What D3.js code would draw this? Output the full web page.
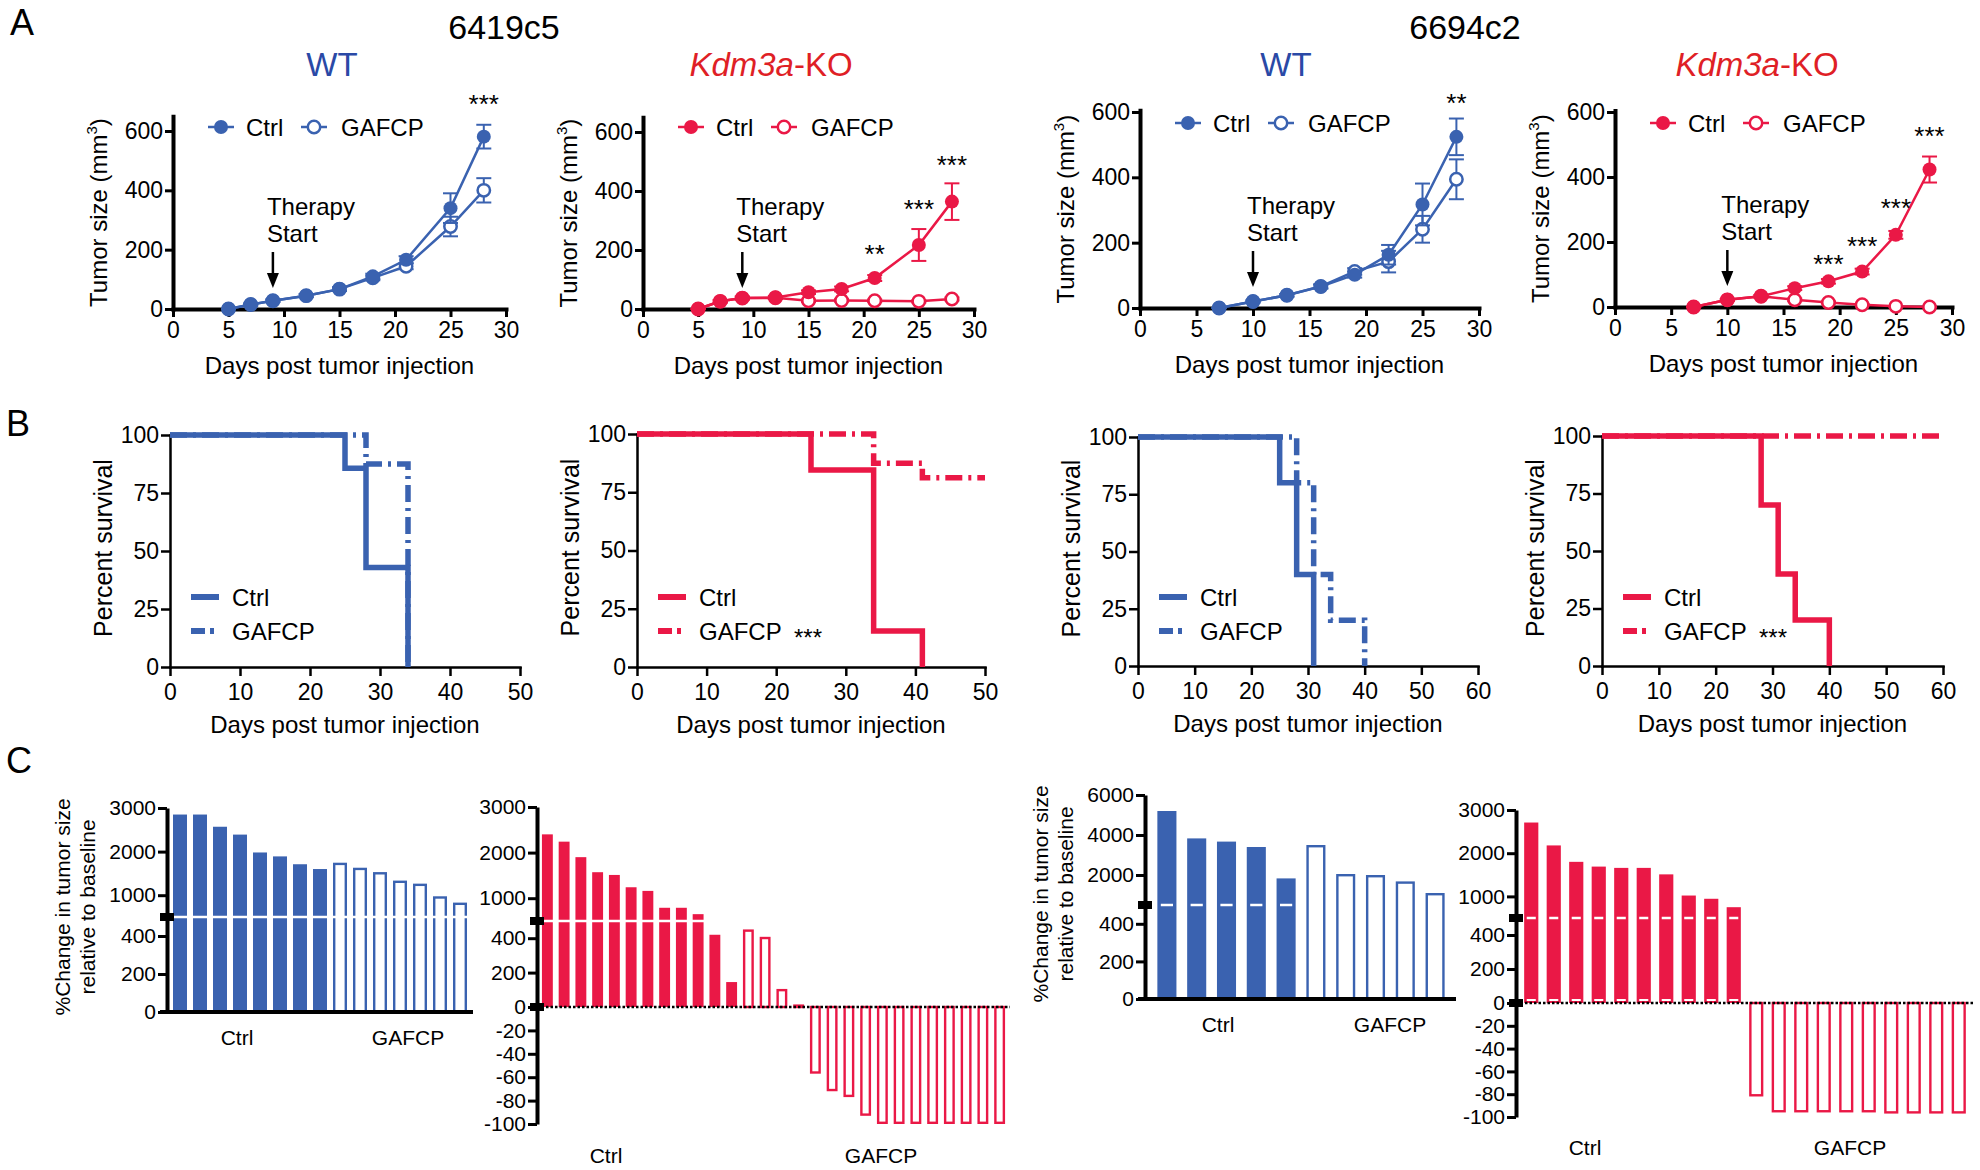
<!DOCTYPE html>
<html><head><meta charset="utf-8">
<script src="https://cdn.jsdelivr.net/npm/d3@7"></script>
<style>
body{margin:0;background:#fff;}
svg{display:block;}
</style></head><body>
<svg id="fig" width="1980" height="1170"></svg>
<script>
// ================= DATA =================
const panelLetters = ["A","B","C"];
const cellLines = ["6419c5","6694c2"];
const genotypes = ["WT","Kdm3a-KO","WT","Kdm3a-KO"];
const seriesNames = ["Ctrl","GAFCP"];
const xAxisTitle = "Days post tumor injection";

// Panel A : tumor growth (mean, SEM)
const growthXTicks = [0,5,10,15,20,25,30];
const growthYTicks = [0,200,400,600];

const a1Days = [5,7,9,12,15,18,21,25,28];
const a1Ctrl = [0,15,28,45,67,110,166,340,581];
const a1CtrlErr = [0,3,4,5,6,9,12,50,40];
const a1Gafcp = [0,15,28,45,67,105,144,278,400];
const a1GafcpErr = [0,3,4,5,6,8,10,33,41];

const a2Days = [5,7,9,12,15,18,21,25,28];
const a2Ctrl = [0,26,37,39,57,68,105,217,364];
const a2CtrlErr = [0,4,5,5,6,8,10,54,62];
const a2Gafcp = [0,26,37,38,28,29,28,26,34];
const a2GafcpErr = [0,4,5,4,4,4,4,4,5];

const a3Days = [7,10,13,16,19,22,25,28];
const a3Ctrl = [0,20,39,66,102,163,317,524];
const a3CtrlErr = [0,3,4,6,9,30,64,56];
const a3Gafcp = [0,20,39,66,112,142,241,394];
const a3GafcpErr = [0,3,4,6,10,33,41,61];

const a4Days = [7,10,13,16,19,22,25,28];
const a4Ctrl = [0,22,33,58,79,109,222,423];
const a4CtrlErr = [0,3,4,6,7,9,12,40];
const a4Gafcp = [0,22,33,22,14,7,2,0];
const a4GafcpErr = [0,3,4,4,3,2,1,1];

const therapyStartDays = [9,9,10,10];

const a1StarDays = [28], a1StarVals = [710], a1Stars = ["***"];
const a2StarDays = [21,25,28], a2StarVals = [206,358,510], a2Stars = ["**","***","***"];
const a3StarDays = [28], a3StarVals = [646], a3Stars = ["**"];
const a4StarDays = [19,22,25,28], a4StarVals = [150,207,324,544], a4Stars = ["***","***","***","***"];

// Panel B : survival (step points)
const survYTicks = [0,25,50,75,100];
const surv50Ticks = [0,10,20,30,40,50];
const surv60Ticks = [0,10,20,30,40,50,60];

const b1CtrlT = [0,25,28,34],        b1CtrlS = [100,85.7,42.9,0];
const b1GafcpT = [0,28,34],          b1GafcpS = [100,87.5,0];
const b2CtrlT = [0,25,34,41],        b2CtrlS = [100,84.6,15.4,0];
const b2GafcpT = [0,34,41,50],       b2GafcpS = [100,87.5,81.25,81.25];
const b3CtrlT = [0,25,28,31],        b3CtrlS = [100,80,40,0];
const b3GafcpT = [0,28,31,34,40],    b3GafcpS = [100,80,40,20,0];
const b4CtrlT = [0,28,31,34,40],     b4CtrlS = [100,70,40,20,0];
const b4GafcpT = [0,60],             b4GafcpS = [100,100];
const survStars = ["","***","","***"];

// Panel C : waterfall (% change)
const c1Ctrl = [2850,2850,2570,2390,1980,1890,1710,1600];
const c1Gafcp = [1745,1630,1530,1335,1265,975,830];
const c2Ctrl = [2400,2240,1900,1570,1510,1240,1160,790,790,650,420,145];
const c2Gafcp = [451,408,105,15,-57,-72,-77,-93,-100,-100,-100,-100,-100,-100,-100,-100];
const c3Ctrl = [5200,3830,3670,3400,1830];
const c3Gafcp = [3500,2050,2000,1680,1100];
const c4Ctrl = [2710,2180,1800,1690,1660,1660,1510,1020,945,750];
const c4Gafcp = [-82,-96,-96,-96,-96,-96,-97,-97,-97,-97];

const c1Ticks = [0,200,400,1000,2000,3000];
const c2Ticks = [-100,-80,-60,-40,-20,0,200,400,1000,2000,3000];
const c3Ticks = [0,200,400,2000,4000,6000];
const c4Ticks = [-100,-80,-60,-40,-20,0,200,400,1000,2000,3000];
const cYTitle = ["%Change in tumor size","relative to baseline"];

// ================= STYLE / LAYOUT =================
const FONT = '"Liberation Sans", Arial, Helvetica, sans-serif';
const BLUE = "#3a62b0", RED = "#ea1846";
const TBLUE = "#2a49a6", TRED = "#df1f26";

const svg = d3.select("#fig").attr("font-family", FONT);
svg.append("rect").attr("width",1980).attr("height",1170).attr("fill","#fff");

function txt(g, x, y, s, size, anchor, fill){
  return g.append("text").attr("x",x).attr("y",y).text(s)
    .attr("font-size",size).attr("text-anchor",anchor||"start")
    .attr("fill",fill||"#000").attr("font-family",FONT);
}
function styleAxis(a, pathW, tickW, fs){
  a.attr("font-family",FONT);
  a.selectAll("path").attr("stroke","#000").attr("stroke-width",pathW).attr("stroke-linecap","square");
  a.selectAll("line").attr("stroke","#000").attr("stroke-width",tickW);
  a.selectAll("text").attr("font-size",fs).attr("fill","#000").attr("font-family",FONT);
}

// panel letters and cell line names
txt(svg, 10, 35, panelLetters[0], 36);
txt(svg, 6, 436, panelLetters[1], 36);
txt(svg, 6, 773, panelLetters[2], 36);
txt(svg, 504, 39, cellLines[0], 34, "middle");
txt(svg, 1465, 39, cellLines[1], 34, "middle");

// ---------- growth panels ----------
const growthLayout = [
  {x0:173,x1:506,y0:309,y600:131,top:650,legY:127,tcx:332},
  {x0:643,x1:974,y0:309,y600:132,top:650,legY:127,tcx:771},
  {x0:1140,x1:1479,y0:308,y600:112,top:605,legY:123,tcx:1286},
  {x0:1615,x1:1952,y0:307,y600:112,top:605,legY:123,tcx:1757}
];

function drawGrowth(i, days, ctrl, ctrlErr, gaf, gafErr, sDays, sVals, sLab, color, tcolor){
  const L = growthLayout[i];
  const g = svg.append("g");
  const x = d3.scaleLinear().domain([0,30]).range([L.x0,L.x1]);
  const k = (L.y0 - L.y600)/600;
  const y = d3.scaleLinear().domain([0,L.top]).range([L.y0, L.y0 - k*L.top]);

  // title
  const t = g.append("text").attr("x",L.tcx).attr("y",76).attr("text-anchor","middle")
    .attr("font-size",33).attr("fill",tcolor).attr("font-family",FONT);
  const gt = genotypes[i];
  if (gt.indexOf("-") > 0){
    const parts = gt.split("-");
    t.append("tspan").attr("font-style","italic").text(parts[0]);
    t.append("tspan").text("-"+parts[1]);
  } else t.text(gt);

  // axes
  const ax = g.append("g").attr("transform",`translate(0,${L.y0})`)
    .call(d3.axisBottom(x).tickValues(growthXTicks).tickSize(8).tickSizeOuter(0).tickPadding(5));
  const ay = g.append("g").attr("transform",`translate(${L.x0},0)`)
    .call(d3.axisLeft(y).tickValues(growthYTicks).tickSize(8).tickSizeOuter(0).tickPadding(2));
  styleAxis(ax,4,3,23); styleAxis(ay,4,3,23);

  // axis titles
  txt(g, (L.x0+L.x1)/2, L.y0+65, xAxisTitle, 24, "middle");
  const yl = g.append("text").attr("transform",`translate(${L.x0-66},${(L.y0+y(L.top))/2}) rotate(-90)`)
    .attr("text-anchor","middle").attr("font-size",24).attr("font-family",FONT).attr("fill","#000");
  yl.append("tspan").text("Tumor size (mm");
  yl.append("tspan").attr("font-size",15).attr("dy",-10).text("3");
  yl.append("tspan").attr("dy",10).text(")");

  // therapy start annotation
  const tx = x(therapyStartDays[i]);
  txt(g, tx-6, L.y0-94, "Therapy", 24);
  txt(g, tx-6, L.y0-67, "Start", 24);
  g.append("line").attr("x1",tx).attr("x2",tx).attr("y1",L.y0-57).attr("y2",L.y0-34)
    .attr("stroke","#000").attr("stroke-width",2.5);
  g.append("path").attr("d",`M${tx-6},${L.y0-36} L${tx+6},${L.y0-36} L${tx},${L.y0-21} Z`).attr("fill","#000");

  function series(vals, errs, filled){
    days.forEach((d,j)=>{
      const xx = x(d), yt = y(vals[j]+errs[j]), yb = y(Math.max(0, vals[j]-errs[j]));
      g.append("line").attr("x1",xx).attr("x2",xx).attr("y1",yt).attr("y2",yb).attr("stroke",color).attr("stroke-width",2);
      [yt,yb].forEach(yy=>g.append("line").attr("x1",xx-7.5).attr("x2",xx+7.5).attr("y1",yy).attr("y2",yy).attr("stroke",color).attr("stroke-width",2));
    });
    g.append("path").datum(days.map((d,j)=>[d,vals[j]]))
      .attr("d", d3.line().x(p=>x(p[0])).y(p=>y(p[1])))
      .attr("fill","none").attr("stroke",color).attr("stroke-width",2.5);
    g.selectAll(null).data(days.map((d,j)=>[d,vals[j]])).enter().append("circle")
      .attr("cx",p=>x(p[0])).attr("cy",p=>y(p[1]))
      .attr("r", filled?7:6.2)
      .attr("fill", filled?color:"#fff")
      .attr("stroke", color).attr("stroke-width", filled?0:2.5);
  }
  series(gaf, gafErr, false);
  series(ctrl, ctrlErr, true);

  // significance stars
  sDays.forEach((d,j)=> txt(g, x(d), y(sVals[j])+15, sLab[j], 26, "middle"));

  // legend
  const ly = L.legY;
  [[48,73,true],[141,168,false]].forEach((c,j)=>{
    const cx = L.x0 + c[0];
    g.append("line").attr("x1",cx-13).attr("x2",cx+13).attr("y1",ly).attr("y2",ly).attr("stroke",color).attr("stroke-width",2.5);
    g.append("circle").attr("cx",cx).attr("cy",ly).attr("r", c[2]?7:6.2)
      .attr("fill", c[2]?color:"#fff").attr("stroke",color).attr("stroke-width", c[2]?0:2.5);
    txt(g, L.x0 + c[1], ly+9, seriesNames[j], 24);
  });
}

drawGrowth(0, a1Days, a1Ctrl, a1CtrlErr, a1Gafcp, a1GafcpErr, a1StarDays, a1StarVals, a1Stars, BLUE, TBLUE);
drawGrowth(1, a2Days, a2Ctrl, a2CtrlErr, a2Gafcp, a2GafcpErr, a2StarDays, a2StarVals, a2Stars, RED, TRED);
drawGrowth(2, a3Days, a3Ctrl, a3CtrlErr, a3Gafcp, a3GafcpErr, a3StarDays, a3StarVals, a3Stars, BLUE, TBLUE);
drawGrowth(3, a4Days, a4Ctrl, a4CtrlErr, a4Gafcp, a4GafcpErr, a4StarDays, a4StarVals, a4Stars, RED, TRED);

// ---------- survival panels ----------
const survLayout = [
  {x0:170,x1:520,y0:667,y100:435,xmax:50},
  {x0:637,x1:985,y0:667,y100:434,xmax:50},
  {x0:1138,x1:1478,y0:666,y100:437,xmax:60},
  {x0:1602,x1:1943,y0:666,y100:436,xmax:60}
];
const DASHDOT = "17,6,3,6";

function drawSurv(i, cT, cS, gT, gS, color, xticks){
  const L = survLayout[i];
  const g = svg.append("g");
  const x = d3.scaleLinear().domain([0,L.xmax]).range([L.x0,L.x1]);
  const y = d3.scaleLinear().domain([0,100]).range([L.y0,L.y100]);
  const ax = g.append("g").attr("transform",`translate(0,${L.y0})`)
    .call(d3.axisBottom(x).tickValues(xticks).tickSize(9).tickSizeOuter(0).tickPadding(8));
  const ay = g.append("g").attr("transform",`translate(${L.x0},0)`)
    .call(d3.axisLeft(y).tickValues(survYTicks).tickSize(9).tickSizeOuter(0).tickPadding(2));
  styleAxis(ax,2.5,2.5,23); styleAxis(ay,2.5,2.5,23);

  txt(g, (L.x0+L.x1)/2, L.y0+66, xAxisTitle, 24, "middle");
  g.append("text").attr("transform",`translate(${L.x0-58},${(L.y0+L.y100)/2-3}) rotate(-90)`)
    .attr("text-anchor","middle").attr("font-size",25).attr("font-family",FONT).attr("fill","#000").text("Percent survival");

  const line = d3.line().curve(d3.curveStepAfter).x(p=>x(p[0])).y(p=>y(p[1]));
  g.append("path").datum(gT.map((t,j)=>[t,gS[j]])).attr("d",line)
    .attr("fill","none").attr("stroke",color).attr("stroke-width",5.5).attr("stroke-dasharray",DASHDOT);
  g.append("path").datum(cT.map((t,j)=>[t,cS[j]])).attr("d",line)
    .attr("fill","none").attr("stroke",color).attr("stroke-width",5.5);

  // legend
  const rows = [597, 631];
  g.append("line").attr("x1",L.x0+21).attr("x2",L.x0+49).attr("y1",rows[0]).attr("y2",rows[0])
    .attr("stroke",color).attr("stroke-width",6);
  g.append("line").attr("x1",L.x0+21).attr("x2",L.x0+49).attr("y1",rows[1]).attr("y2",rows[1])
    .attr("stroke",color).attr("stroke-width",6).attr("stroke-dasharray","14,5,4,6");
  txt(g, L.x0+62, rows[0]+9, seriesNames[0], 24);
  txt(g, L.x0+62, rows[1]+9, seriesNames[1], 24);
  if (survStars[i]) txt(g, L.x0+157, rows[1]+15, survStars[i], 24);
}

drawSurv(0, b1CtrlT, b1CtrlS, b1GafcpT, b1GafcpS, BLUE, surv50Ticks);
drawSurv(1, b2CtrlT, b2CtrlS, b2GafcpT, b2GafcpS, RED, surv50Ticks);
drawSurv(2, b3CtrlT, b3CtrlS, b3GafcpT, b3GafcpS, BLUE, surv60Ticks);
drawSurv(3, b4CtrlT, b4CtrlS, b4GafcpT, b4GafcpS, RED, surv60Ticks);

// ---------- waterfall panels ----------
const waterLayout = [
  {ax:167,b0:170,b1:470,pi:0.3,yDom:[0,500,3000],yRng:[1012,917,808],xEnd:473,dotted:false,
   breakV:500,solidBreak:true,lab:[237,408],labY:1045,yTitle:true},
  {ax:537,b0:539,b1:1008,pi:0.35,yDom:[-100,0,500,3000],yRng:[1124,1007,921,807],xEnd:1010,dotted:true,
   breakV:500,solidBreak:true,lab:[606,881],labY:1163,yTitle:false},
  {ax:1145,b0:1152,b1:1450,pi:0.36,yDom:[0,500,6000],yRng:[999,905,795],xEnd:1456,dotted:false,
   breakV:500,solidBreak:false,lab:[1218,1390],labY:1032,yTitle:true},
  {ax:1516,b0:1520,b1:1970,pi:0.37,yDom:[-100,0,500,3000],yRng:[1117,1003,918,810],xEnd:1975,dotted:true,
   breakV:500,solidBreak:false,zeroDash:true,lab:[1585,1850],labY:1155,yTitle:false}
];

function drawWater(i, ctrl, gaf, color, ticks){
  const L = waterLayout[i];
  const g = svg.append("g");
  const vals = ctrl.concat(gaf);
  const idx = d3.range(vals.length);
  const x = d3.scaleBand().domain(idx).range([L.b0,L.b1]).paddingInner(L.pi).paddingOuter(L.pi/2);
  const y = d3.scaleLinear().domain(L.yDom).range(L.yRng);
  const bw = x.bandwidth();

  // bars
  vals.forEach((v,j)=>{
    const filled = j < ctrl.length;
    const y0 = y(0), y1 = y(v);
    const top = Math.min(y0,y1), h = Math.abs(y1-y0);
    if (filled){
      g.append("rect").attr("x",x(j)).attr("y",top).attr("width",bw).attr("height",h).attr("fill",color);
    } else {
      g.append("rect").attr("x",x(j)+1.2).attr("y",top+(v>=0?1.2:0)).attr("width",bw-2.4)
        .attr("height",Math.max(0,h-1.2)).attr("fill","#fff").attr("stroke",color).attr("stroke-width",2.4);
    }
  });
  // axis break line across bars
  const yb = y(L.breakV);
  if (L.solidBreak){
    g.append("line").attr("x1",L.b0).attr("x2",L.b1).attr("y1",yb).attr("y2",yb).attr("stroke","#fff").attr("stroke-width",2.5);
  } else {
    ctrl.forEach((v,j)=>{
      if (v > L.breakV) g.append("line").attr("x1",x(j)+bw*0.18).attr("x2",x(j)+bw*0.82).attr("y1",yb).attr("y2",yb)
        .attr("stroke","#fff").attr("stroke-width",2.5);
      if (L.zeroDash) g.append("line").attr("x1",x(j)+bw*0.18).attr("x2",x(j)+bw*0.82).attr("y1",y(0)-3).attr("y2",y(0)-3)
        .attr("stroke","#fff").attr("stroke-width",2);
    });
  }

  // baseline
  if (L.dotted){
    g.append("line").attr("x1",L.ax).attr("x2",L.xEnd).attr("y1",y(0)).attr("y2",y(0))
      .attr("stroke","#000").attr("stroke-width",2.5).attr("stroke-dasharray","2.5,2");
  } else {
    g.append("line").attr("x1",L.ax-7).attr("x2",L.xEnd).attr("y1",y(0)).attr("y2",y(0))
      .attr("stroke","#000").attr("stroke-width",4);
  }
  // y axis
  const ay = g.append("g").attr("transform",`translate(${L.ax},0)`)
    .call(d3.axisLeft(y).tickValues(ticks).tickSize(9).tickSizeOuter(0).tickPadding(2).tickFormat(d=>String(d)));
  styleAxis(ay,4,3,21);
  ay.selectAll("path").attr("stroke-linecap","butt");
  // break markers
  g.append("rect").attr("x",L.ax-7).attr("y",yb-4).attr("width",14).attr("height",8).attr("fill","#000");
  if (L.dotted) g.append("rect").attr("x",L.ax-7).attr("y",y(0)-4).attr("width",14).attr("height",8).attr("fill","#000");

  // group labels
  txt(g, L.lab[0], L.labY, seriesNames[0], 21, "middle");
  txt(g, L.lab[1], L.labY, seriesNames[1], 21, "middle");

  if (L.yTitle){
    const cy = (L.yRng[0] + L.yRng[L.yRng.length-1])/2 - 3;
    g.append("text").attr("transform",`translate(${L.ax-97},${cy}) rotate(-90)`).attr("text-anchor","middle")
      .attr("font-size",21).attr("font-family",FONT).attr("fill","#000").text(cYTitle[0]);
    g.append("text").attr("transform",`translate(${L.ax-72},${cy}) rotate(-90)`).attr("text-anchor","middle")
      .attr("font-size",21).attr("font-family",FONT).attr("fill","#000").text(cYTitle[1]);
  }
}

drawWater(0, c1Ctrl, c1Gafcp, BLUE, c1Ticks);
drawWater(1, c2Ctrl, c2Gafcp, RED, c2Ticks);
drawWater(2, c3Ctrl, c3Gafcp, BLUE, c3Ticks);
drawWater(3, c4Ctrl, c4Gafcp, RED, c4Ticks);
</script>
</body></html>
